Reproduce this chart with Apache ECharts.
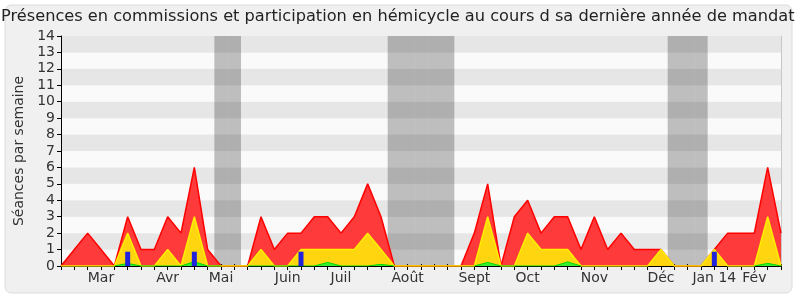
<!DOCTYPE html>
<html><head><meta charset="utf-8">
<script src="https://cdn.jsdelivr.net/npm/echarts@6/dist/echarts.min.js"></script>
<style>html,body{margin:0;padding:0;background:#fff}#c{width:800px;height:300px}</style>
</head><body><div id="c"></div>
<script>
// 55 weekly points
const weekLabels = ['', '', '', 'Mar', '', '', '', '', 'Avr', '', '', '', 'Mai', '', '', '', '', 'Juin', '', '', '', 'Juil', '', '', '', '', 'Août', '', '', '', '', 'Sept', '', '', '', 'Oct', '', '', '', '', 'Nov', '', '', '', '', 'Déc', '', '', '', 'Jan 14', '', '', 'Fév', '', ''];
const presences = [0, 1, 2, 1, 0, 3, 1, 1, 3, 2, 6, 1, 0, 0, 0, 3, 1, 2, 2, 3, 3, 2, 3, 5, 3, 0, 0, 0, 0, 0, 0, 2, 5, 0, 3, 4, 2, 3, 3, 1, 3, 1, 2, 1, 1, 1, 0, 0, 0, 1, 2, 2, 2, 6, 2];
const participations = [0, 0, 0, 0, 0, 2, 0, 0, 1, 0, 3, 0, 0, 0, 0, 1, 0, 0, 1, 1, 1, 1, 1, 2, 1, 0, 0, 0, 0, 0, 0, 0, 3, 0, 0, 2, 1, 1, 1, 0, 0, 0, 0, 0, 0, 1, 0, 0, 0, 1, 0, 0, 0, 3, 0];
const interventions = [null, null, null, null, 0, 0.16, 0, 0, 0, 0, 0.26, 0, 0, null, 0, 0, 0, 0, 0, 0, 0.22, 0, 0, 0, 0.1, 0, null, null, null, null, null, 0, 0.22, 0, 0, 0, 0, 0, 0.25, 0, null, null, null, null, null, null, null, null, null, null, null, null, 0, 0.16, 0];
const questions = [null, null, null, null, null, 0.87, null, null, null, null, 0.87, null, null, null, null, null, null, null, 0.87, null, null, null, null, null, null, null, null, null, null, null, null, null, null, null, null, null, null, null, null, null, null, null, null, null, null, null, null, null, null, 0.87, null, null, null, null, null];
const vacances = [null, null, null, null, null, null, null, null, null, null, null, null, 14, 14, null, null, null, null, null, null, null, null, null, null, null, 14, 14, 14, 14, 14, null, null, null, null, null, null, null, null, null, null, null, null, null, null, null, null, 14, 14, 14, null, null, null, null, null, null];
const yTicks = [0, 14, 1];

const FONT = 'DejaVu Sans';
const chart = echarts.init(document.getElementById('c'), null, {renderer: 'canvas'});
chart.setOption({
  animation: false,
  backgroundColor: 'transparent',
  textStyle: {fontFamily: FONT},
  graphic: [{
    type: 'rect', z: -10, silent: true,
    shape: {x: 5, y: 5, width: 787, height: 288, r: 6},
    style: {fill: '#f0f0f0', stroke: '#dcdcdc', lineWidth: 1}
  }],
  title: {
    text: 'Présences en commissions et participation en hémicycle au cours d sa dernière année de mandat',
    left: 1, top: 9, padding: 0,
    textStyle: {fontFamily: FONT, fontSize: 16.2, fontWeight: 'normal', color: '#222'}
  },
  grid: {left: 61, right: 19, top: 36, bottom: 34, containLabel: false},
  xAxis: [{
    type: 'category', data: weekLabels, boundaryGap: false,
    axisLine: {show: true, lineStyle: {color: '#000', width: 1}},
    axisTick: {show: true, length: 4, interval: 0, lineStyle: {color: '#000'}},
    axisLabel: {interval: 0, fontSize: 14, color: '#333', margin: 5, fontFamily: FONT},
    splitLine: {show: false}
  }, {
    type: 'category', data: weekLabels, boundaryGap: false, position: 'top',
    axisLine: {show: false},
    axisTick: {show: true, length: 2, interval: 0, lineStyle: {color: '#000'}},
    axisLabel: {show: false},
    splitLine: {show: false}
  }],
  yAxis: [{
    type: 'value', min: yTicks[0], max: yTicks[1], interval: yTicks[2],
    name: 'Séances par semaine', nameLocation: 'middle', nameGap: 35,
    nameTextStyle: {fontSize: 14, color: '#333', fontFamily: FONT},
    axisLine: {show: true, lineStyle: {color: '#000'}},
    axisTick: {show: true, length: 4, lineStyle: {color: '#000'}},
    axisLabel: {fontSize: 14, color: '#333', margin: 6, fontFamily: FONT},
    splitLine: {show: false},
    splitArea: {show: true, areaStyle: {color: ['#fafafa', '#e6e6e6']}}
  }, {
    type: 'value', min: yTicks[0], max: yTicks[1], interval: yTicks[2], position: 'right',
    axisLine: {show: true, lineStyle: {color: '#c8c8c8'}},
    axisTick: {show: false}, axisLabel: {show: false}, splitLine: {show: false}
  }],
  series: [{
    name: 'Vacances', type: 'bar', xAxisIndex: 1, yAxisIndex: 0, data: vacances,
    barWidth: '100%', itemStyle: {color: 'rgba(0,0,0,0.24)'}, silent: true, z: 1
  }, {
    name: 'Présences', type: 'line', data: presences, symbol: 'none', z: 2,
    lineStyle: {color: '#ff0000', width: 1.5},
    areaStyle: {color: '#ff3a3a', opacity: 1}
  }, {
    name: 'Participations', type: 'line', data: participations, symbol: 'none', z: 3,
    lineStyle: {color: '#ffee00', width: 1.5},
    areaStyle: {color: '#ffd510', opacity: 1}
  }, {
    name: 'Interventions', type: 'line', data: interventions, symbol: 'none', z: 4,
    lineStyle: {color: '#00d800', width: 1},
    areaStyle: {color: '#33ee33', opacity: 1}
  }, {
    name: 'Questions', type: 'bar', xAxisIndex: 0, yAxisIndex: 0, data: questions, barWidth: 5, z: 10,
    itemStyle: {color: '#2222dd'}
  }]
});
</script>
</body></html>
